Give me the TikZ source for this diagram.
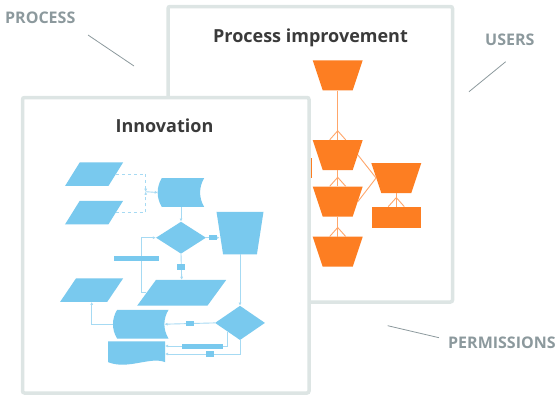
\documentclass[tikz,border=0pt]{standalone}
\usepackage{fontspec}
\setmainfont{Open Sans}
\usetikzlibrary{shapes.geometric,arrows.meta}

\definecolor{framegray}{HTML}{DDE5E4}
\definecolor{labelgray}{HTML}{8C999D}
\definecolor{titlegray}{HTML}{3A3A3A}
\definecolor{flowblue}{HTML}{79C9EE}
\definecolor{lineblue}{HTML}{A6DAF3}
\definecolor{floworange}{HTML}{FD7E22}
\definecolor{lineorange}{HTML}{FFA66A}

\tikzset{
  panel/.style={draw=framegray, line width=3.5pt, fill=white, rounded corners=2pt},
  paneltitle/.style={font=\bfseries\fontsize{18}{18}\selectfont, text=titlegray, anchor=base, inner sep=0},
  sidelabel/.style={font=\bfseries\fontsize{16}{16}\selectfont, text=labelgray, anchor=base west, inner sep=0},
  pointer/.style={draw=labelgray, line width=0.8pt},
  funnel/.style={trapezium, shape border rotate=180, trapezium angle=71.6,
    trapezium stretches=true, minimum width=50, minimum height=30, inner sep=1pt, fill=floworange},
  orangebox/.style={rectangle, minimum width=49, minimum height=21, inner sep=0, fill=floworange},
  orangelink/.style={draw=lineorange, line width=0.9pt},
  datain/.style={trapezium, trapezium left angle=63, trapezium right angle=117,
    trapezium stretches=true, minimum width=58, minimum height=23.5, inner sep=1pt, fill=flowblue},
  decision/.style={diamond, minimum width=50, minimum height=32, inner sep=1pt, fill=flowblue},
  bluefunnel/.style={trapezium, shape border rotate=180, trapezium angle=79,
    trapezium stretches=true, minimum width=47, minimum height=42.5, inner sep=1pt, fill=flowblue},
  link/.style={draw=lineblue, line width=0.9pt},
  tip/.style={-{Latex[length=3pt,width=3pt]}},
  tag/.style={rectangle, fill=flowblue, minimum width=8, minimum height=5.5, inner sep=0},
  bar/.style={rectangle, fill=flowblue, minimum height=5, inner sep=0}
}

% crow's foot on the top of a node
\newcommand{\crowfoot}[1]{%
  \draw[orangelink] ([xshift=-8pt]#1.north) -- ([yshift=9pt]#1.north) -- ([xshift=8pt]#1.north);}

% stored data box: name, x, y, width, height
\newcommand{\storedbox}[5]{%
  \node[minimum width=#4, minimum height=#5, inner sep=0] (#1) at (#2,#3) {};
  \fill[flowblue] ([xshift=4pt]#1.north west) -- (#1.north east)
    .. controls +(-5.5,9) and +(-5.5,-9) .. (#1.south east)
    -- ([xshift=4pt]#1.south west)
    .. controls +(-5.5,-9) and +(-5.5,9) .. ([xshift=4pt]#1.north west) -- cycle;}

% document box: name, x, y, width, height
\newcommand{\docbox}[5]{%
  \node[minimum width=#4, minimum height=#5, inner sep=0] (#1) at (#2,#3) {};
  \fill[flowblue] (#1.north west) -- (#1.north east) -- (#1.south east)
    .. controls +(-15,-6) and +(20,8) .. (#1.south west) -- cycle;}

\begin{document}
\begin{tikzpicture}[x=1pt,y=-1pt]
\useasboundingbox (0,0) rectangle (558,405);

% back panel
\draw[panel] (168,6.5) rectangle (452.5,302);
\node[paneltitle] (ptitle) at (310.5,42.3) {Process improvement};

\node[funnel] (t1) at (337.7,75.3) {};
\node[funnel] (t2) at (337.7,155) {};
\node[funnel] (t3) at (337.7,201.5) {};
\node[funnel] (t4) at (337.7,251.7) {};
\node[funnel] (t5) at (396.3,178) {};
\node[orangebox] (r1) at (396.3,217.3) {};
\node[orangebox, minimum width=34, minimum height=20] (r0) at (295,168) {};

\draw[orangelink] (t1.south) -- (t2.north);
\draw[orangelink] (t2.south) -- (t3.north);
\draw[orangelink] (t3.south) -- (t4.north);
\draw[orangelink] (t5.south) -- (r1.north);
\draw[orangelink] (t2.east) -- (t5.west) -- (t3.east);
\crowfoot{t2}
\crowfoot{t3}
\crowfoot{t4}
\crowfoot{r1}

% front panel
\draw[panel] (22.5,97.5) rectangle (309,393);
\node[paneltitle] (ititle) at (164.5,132.3) {Innovation};

\node[datain] (p1) at (94.2,174) {};
\node[datain] (p2) at (94,212.7) {};
\node[datain, minimum width=63] (p3) at (91.7,290) {};
\node[datain, minimum width=89, minimum height=25.7, trapezium left angle=70, trapezium right angle=110] (p4) at (181.7,292.8) {};
\storedbox{s1}{181}{192.5}{46}{28.4}
\storedbox{s2}{140.8}{324.2}{55}{28.3}
\docbox{doc1}{136.6}{351.8}{56.7}{20.3}
\node[decision] (d1) at (181,237.7) {};
\node[decision, minimum height=34.3] (d2) at (240,322.9) {};
\node[bluefunnel] (q1) at (240,233) {};
\coordinate (j1) at (145.7,191.7);

\draw[link, dashed, tip] (p1.east) -| (j1);
\draw[link, dashed, tip] (p2.east) -| (j1);
\draw[link, tip] (j1) -- (s1.west);
\draw[link, tip] (s1.south) -- (d1.north);
\draw[link, tip] (d1.east) -- node[tag] (g1) {} (d1.east -| q1.west);
\draw[link, tip] (d1.south) -- node[tag] (g2) {} (p4.north);
\draw[link, tip] (p4.west) -- ++(-5,0) |- (d1.west);
\node[bar, minimum width=45] (b1) at (136.5,258.5) {};
\draw[link, tip] (q1.south) -- (d2.north);
\draw[link, tip] (d2.west) -- node[tag] (g3) {} ([xshift=-4pt]s2.east);
\draw[link, tip] (s2.west) -| (p3.south);
\draw[link, tip] (d2.south west) |- node[bar, pos=0.7, minimum width=41] (b2) {} ([yshift=5.8pt]doc1.east);
\draw[link, tip] (d2.south) |- node[tag, pos=0.7] (g4) {} ([yshift=-2.2pt]doc1.east);

% side labels
\node[sidelabel] (lprocess) at (5,23.3) {PROCESS};
\node[sidelabel] (lusers) at (485,45) {USERS};
\node[sidelabel] (lperm) at (448,348.3) {PERMISSIONS};
\coordinate (a1) at (88,35);
\coordinate (a2) at (134,66);
\coordinate (u1) at (505.7,61.7);
\coordinate (u2) at (469,91.7);
\coordinate (m1) at (387.7,325.7);
\coordinate (m2) at (439,337.7);
\draw[pointer] (a1) -- (a2);
\draw[pointer] (u1) -- (u2);
\draw[pointer] (m1) -- (m2);
\end{tikzpicture}
\end{document}
